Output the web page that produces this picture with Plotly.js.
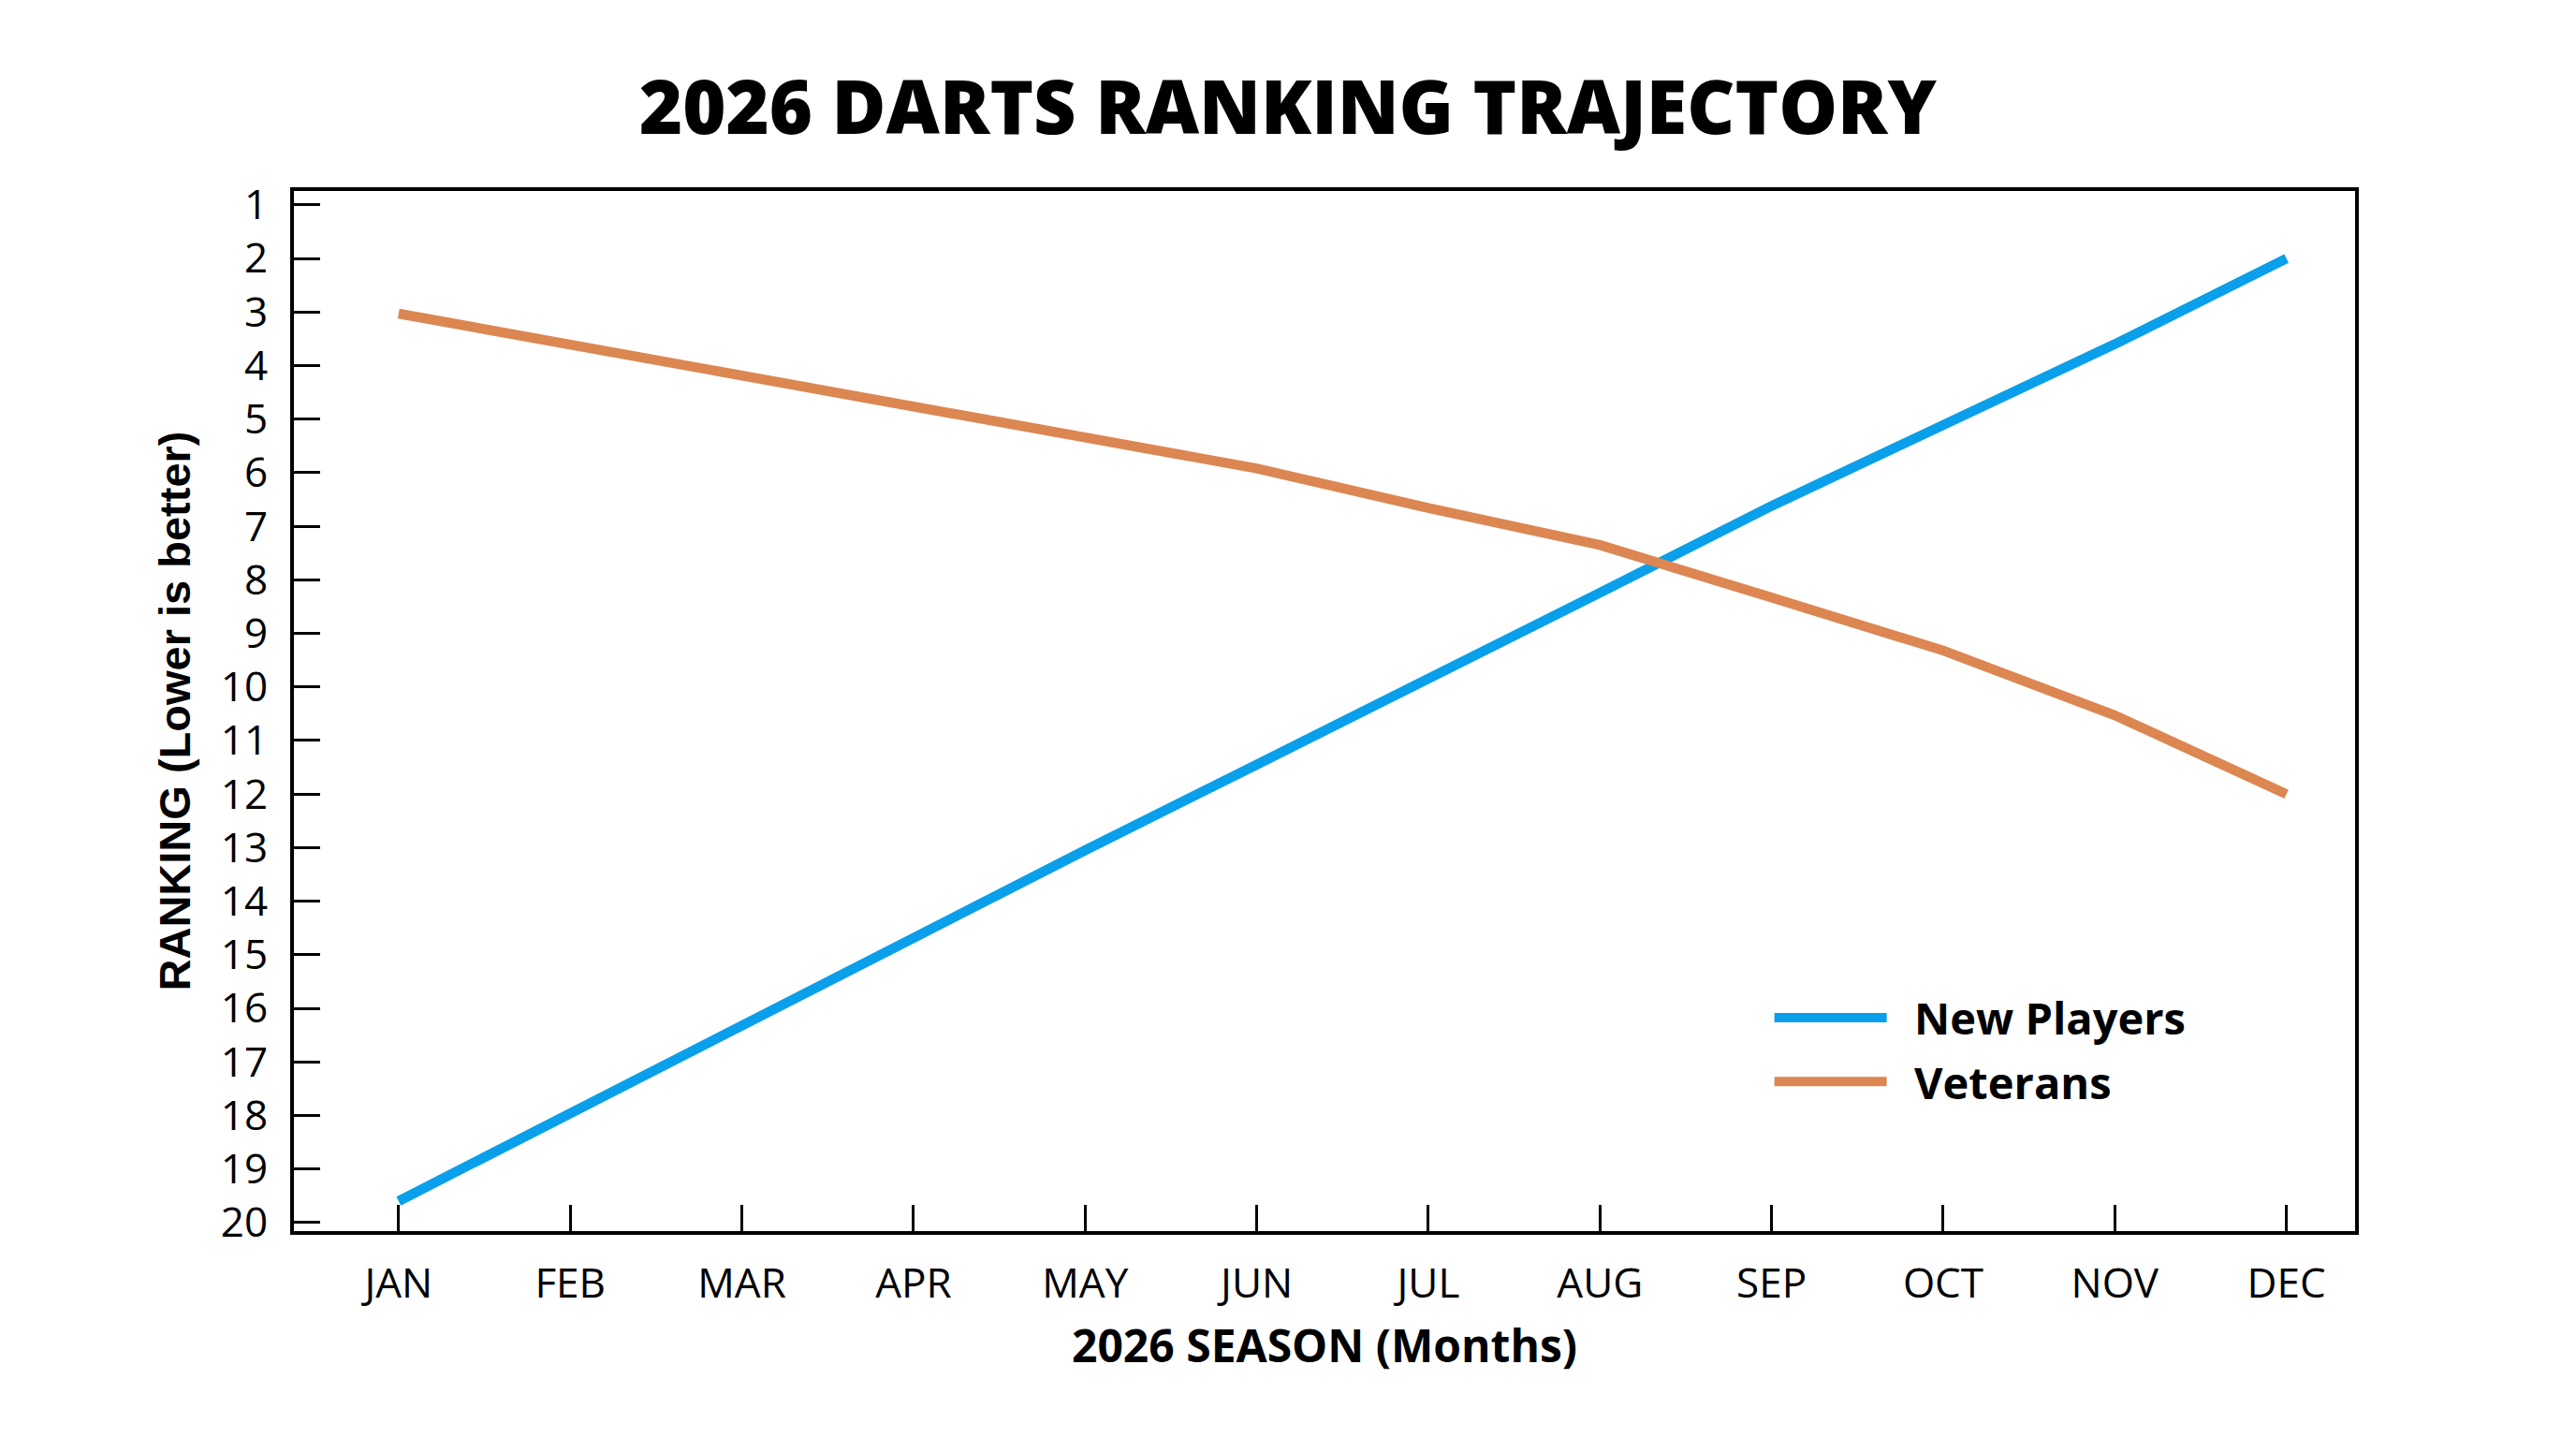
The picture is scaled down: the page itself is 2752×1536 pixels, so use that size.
<!DOCTYPE html>
<html>
<head>
<meta charset="utf-8">
<script src="https://cdn.plot.ly/plotly-3.0.1.min.js"></script>
<style>
  html, body { margin: 0; padding: 0; background: #fff; }
  #chart { width: 2752px; height: 1536px; }
</style>
</head>
<body>
<div id="chart"></div>
<script>
// ---------------- data ----------------
var months = ['JAN', 'FEB', 'MAR', 'APR', 'MAY', 'JUN',
              'JUL', 'AUG', 'SEP', 'OCT', 'NOV', 'DEC'];
var new_players = [19.6, 17.95, 16.3, 14.7, 13.05, 11.45, 9.86, 8.24, 6.62, 5.1, 3.6, 2.0];
var veterans = [3.03, 3.6, 4.17, 4.75, 5.34, 5.92, 6.66, 7.35, 8.33, 9.32, 10.53, 12.0];
var rank_ticks = [1, 2, 3, 4, 5, 6, 7, 8, 9, 10, 11, 12, 13, 14, 15, 16, 17, 18, 19, 20];
var series_names = ['New Players', 'Veterans'];

// ---------------- traces ----------------
// the &nbsp; pair just pushes the legend text away from the long legend line
var trace1 = {
  x: months,
  y: new_players,
  name: '&nbsp;&nbsp;' + series_names[0],
  legendgroup: 'a',
  type: 'scatter',
  mode: 'lines',
  line: {color: '#0A9FEA', width: 10.5}
};

var trace2 = {
  x: months,
  y: veterans,
  name: '&nbsp;&nbsp;' + series_names[1],
  legendgroup: 'b',
  type: 'scatter',
  mode: 'lines',
  line: {color: '#DC8652', width: 10.5}
};

var tickFont = {family: 'Open Sans, sans-serif', size: 44, color: '#000'};

var layout = {
  width: 2752,
  height: 1536,
  paper_bgcolor: '#fff',
  plot_bgcolor: '#fff',
  margin: {l: 314, r: 236, t: 204, b: 221},
  title: {
    text: '2026 DARTS RANKING TRAJECTORY',
    font: {family: 'Open Sans, sans-serif', size: 79, weight: 800, color: '#000'},
    xref: 'container', x: 0.5, xanchor: 'center',
    yref: 'container', y: 0.925, yanchor: 'middle'
  },
  xaxis: {
    type: 'category',
    categoryarray: months,
    range: [-0.61, 11.40],
    showgrid: false,
    zeroline: false,
    showline: true,
    linecolor: '#000',
    linewidth: 4,
    mirror: true,
    ticks: 'inside',
    ticklen: 28,
    tickwidth: 3,
    tickcolor: '#000',
    tickfont: tickFont,
    ticklabelstandoff: 14,
    title: {
      text: '2026 SEASON (Months)',
      font: {family: 'Open Sans, sans-serif', size: 48, weight: 'bold', color: '#000'},
      standoff: 25
    }
  },
  yaxis: {
    range: [20.16, 0.74],
    tickvals: rank_ticks,
    showgrid: false,
    zeroline: false,
    showline: true,
    linecolor: '#000',
    linewidth: 4,
    mirror: true,
    ticks: 'inside',
    ticklen: 28,
    tickwidth: 3,
    tickcolor: '#000',
    tickfont: tickFont,
    ticklabelstandoff: 15,
    title: {
      text: 'RANKING (Lower is better)',
      font: {family: 'Liberation Sans, Arial, sans-serif', size: 47, weight: 'bold', color: '#000'},
      standoff: 18
    }
  },
  showlegend: true,
  legend: {
    x: 0.716, xanchor: 'left',
    y: 0.2385, yanchor: 'top',
    bgcolor: 'rgba(0,0,0,0)',
    borderwidth: 0,
    itemwidth: 120,
    traceorder: 'grouped',
    tracegroupgap: 4,
    font: {family: 'Open Sans, sans-serif', size: 47, weight: 'bold', color: '#000'}
  }
};

var data = [trace1, trace2];
var config = {responsive: false, displayModeBar: false, staticPlot: true};
Plotly.newPlot('chart', data, layout, config);
</script>
</body>
</html>
